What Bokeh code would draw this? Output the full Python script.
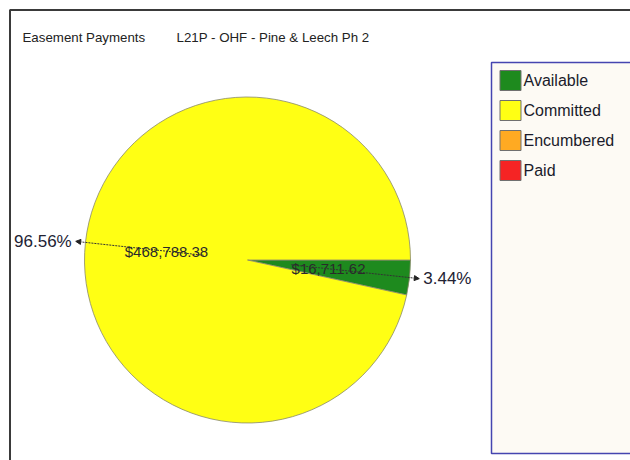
import numpy as np
from bokeh.plotting import figure
from bokeh.models import ColumnDataSource, Range1d, Arrow, NormalHead
from bokeh.core.properties import value
from bokeh.embed import file_html
from bokeh.resources import INLINE

# ---- data ----
categories = ["Available", "Committed", "Encumbered", "Paid"]
amounts = [16711.62, 468788.38, 0.0, 0.0]
colors = ["#1E8A1E", "#FFFF14", "#FFAA22", "#F52424"]
title_left = "Easement Payments"
title_right = "L21P - OHF - Pine & Leech Ph 2"

FONT = value("Liberation Sans")
W, H = 630, 460
p = figure(width=W, height=H, x_range=Range1d(0, W), y_range=Range1d(0, H),
           output_backend="svg", toolbar_location=None, min_border=0,
           outline_line_color=None)
p.axis.visible = False
p.grid.visible = False
p.background_fill_color = "white"
p.border_fill_color = "white"

# outer frame (left / top edges, starting at the corner)
p.line(x=[9.5, 9.5, W + 5], y=[-5, H - 9.5, H - 9.5], line_color="#3a3a3a", line_width=2)

# ---- pie ----
cx, cy, R = 247, 200.5, 163
vals = np.array(amounts, dtype=float)
frac = vals / vals.sum()
cum = np.concatenate([[0.0], np.cumsum(frac)])
start = -2 * np.pi * cum[:-1]
end = -2 * np.pi * cum[1:]
mid = (start + end) / 2
mask = vals > 0

pie = ColumnDataSource(dict(
    start=start[mask], end=end[mask], color=np.array(colors)[mask],
    x=[cx] * int(mask.sum()), y=[cy] * int(mask.sum()),
))
p.wedge(x="x", y="y", radius=R, start_angle="start", end_angle="end",
        direction="clock", fill_color="color", line_color="#8a8a6a",
        line_width=1, line_alpha=0.8, source=pie)

# value labels inside
m = mid[mask]
v = vals[mask]
f = frac[mask]
inner = ColumnDataSource(dict(
    x=cx + 0.5 * R * np.cos(m), y=cy + 0.5 * R * np.sin(m),
    text=[f"${a:,.2f}" for a in v],
))
p.text(x="x", y="y", text="text", source=inner, text_font=FONT,
       text_font_size="15px", text_color="#2a2a2a",
       text_align="center", text_baseline="middle")

# leader lines with arrows
r0, r1 = 0.27 * R, 1.06 * R
lead = ColumnDataSource(dict(
    x0=cx + r0 * np.cos(m), y0=cy + r0 * np.sin(m),
    x1=cx + r1 * np.cos(m), y1=cy + r1 * np.sin(m),
))
p.add_layout(Arrow(end=NormalHead(size=5, fill_color="#222", line_color="#222"),
                   x_start="x0", y_start="y0", x_end="x1", y_end="y1",
                   line_color="#333", line_width=1, line_dash="2 1", source=lead))

# percentage labels outside
cosm = np.cos(m)
pct = ColumnDataSource(dict(
    x=cx + r1 * cosm + np.where(cosm >= 0, 4, -4),
    y=cy + r1 * np.sin(m),
    text=[f"{100 * q:.2f}%" for q in f],
    align=["left" if c >= 0 else "right" for c in cosm],
))
p.text(x="x", y="y", text="text", source=pct, text_font=FONT,
       text_font_size="17px", text_color="#222233",
       text_align="align", text_baseline="middle")

# ---- title ----
p.text(x=[22], y=[H - 37], text=[title_left], text_font=FONT, text_font_size="13.3px",
       text_color="#222", text_baseline="middle")
p.text(x=[176], y=[H - 37], text=[title_right], text_font=FONT, text_font_size="13.3px",
       text_color="#222", text_baseline="middle")

# ---- legend ----
p.quad(left=[491], right=[680], top=[H - 62], bottom=[H - 453], fill_color="#FDFAF4",
       line_color="#4545B0", line_width=1.5)
n = len(categories)
ly = [H - 80 - 30 * i for i in range(n)]
p.rect(x=[510] * n, y=ly, width=21, height=20, fill_color=colors,
       line_color="#707070", line_width=1)
p.text(x=[523] * n, y=ly, text=categories, text_font=FONT, text_font_size="16px",
       text_color="#1a1a2a", text_baseline="middle")

open("out.html", "w").write(file_html(p, INLINE))
